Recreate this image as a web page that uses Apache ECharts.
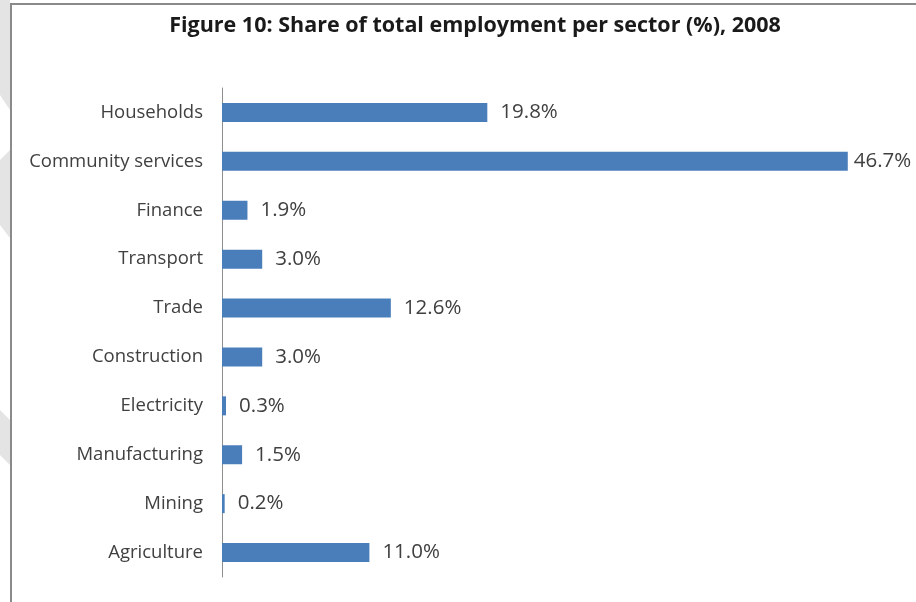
<!DOCTYPE html>
<html>
<head>
<meta charset="utf-8">
<script src="https://cdn.jsdelivr.net/npm/echarts@6/dist/echarts.min.js"></script>
<style>
  html, body { margin: 0; padding: 0; background: #ffffff; }
  #chart { width: 916px; height: 602px; }
</style>
</head>
<body>
<div id="chart"></div>
<script>
// Sectors, listed top to bottom as drawn
const sectors = [
  'Households', 'Community services', 'Finance', 'Transport', 'Trade',
  'Construction', 'Electricity', 'Manufacturing', 'Mining', 'Agriculture'
];
// Share of total employment, %
const shares = [19.8, 46.7, 1.9, 3.0, 12.6, 3.0, 0.3, 1.5, 0.2, 11.0];

const titleText = 'Figure 10: Share of total employment per sector (%), 2008';
const barColor = '#4a7ebb';
const textColor = '#404040';
const fontFamily = '"Open Sans", Lato, sans-serif';

const chart = echarts.init(document.getElementById('chart'), null, { renderer: 'canvas' });

const maxShare = Math.max(...shares);

chart.setOption({
  animation: false,
  backgroundColor: '#ffffff',
  title: {
    text: titleText,
    left: 470,
    top: 10,
    textAlign: 'center',
    textStyle: { fontFamily: fontFamily, fontWeight: 'bold', fontSize: 21.5, color: '#1a1a1a' }
  },
  grid: { left: 222, top: 88, width: 670, height: 489, containLabel: false },
  xAxis: {
    type: 'value',
    min: 0,
    max: 50,
    show: false
  },
  yAxis: {
    type: 'category',
    data: sectors,
    inverse: true,
    axisLine: { show: true, lineStyle: { color: '#8e8e8e', width: 1 } },
    axisTick: { show: false },
    axisLabel: { margin: 19, color: textColor, fontFamily: fontFamily, fontSize: 18.5 },
    splitLine: { show: false }
  },
  series: [{
    type: 'bar',
    data: shares.map(v => ({
      value: v,
      label: { distance: v === maxShare ? 6 : 13 }
    })),
    barWidth: 19,
    itemStyle: { color: barColor },
    label: {
      show: true,
      position: 'right',
      color: textColor,
      fontFamily: fontFamily,
      fontSize: 20.5,
      formatter: p => p.value.toFixed(1) + '%'
    }
  }],
  graphic: [
    // faint page decorations at the left margin
    { type: 'polygon', silent: true, z: -1,
      shape: { points: [[0, 0], [10, 0], [10, 110], [0, 95]] },
      style: { fill: '#e4e4e4' } },
    { type: 'polygon', silent: true, z: -1,
      shape: { points: [[0, 160], [10, 150], [10, 238], [0, 225]] },
      style: { fill: '#e4e4e4' } },
    { type: 'polygon', silent: true, z: -1,
      shape: { points: [[0, 410], [10, 420], [10, 465], [0, 455]] },
      style: { fill: '#e4e4e4' } },
    // frame around the chart area
    { type: 'rect', silent: true, z: 10,
      shape: { x: 11, y: 4, width: 920, height: 610 },
      style: { fill: null, stroke: '#8a8a8a', lineWidth: 2 } }
  ]
});
</script>
</body>
</html>
